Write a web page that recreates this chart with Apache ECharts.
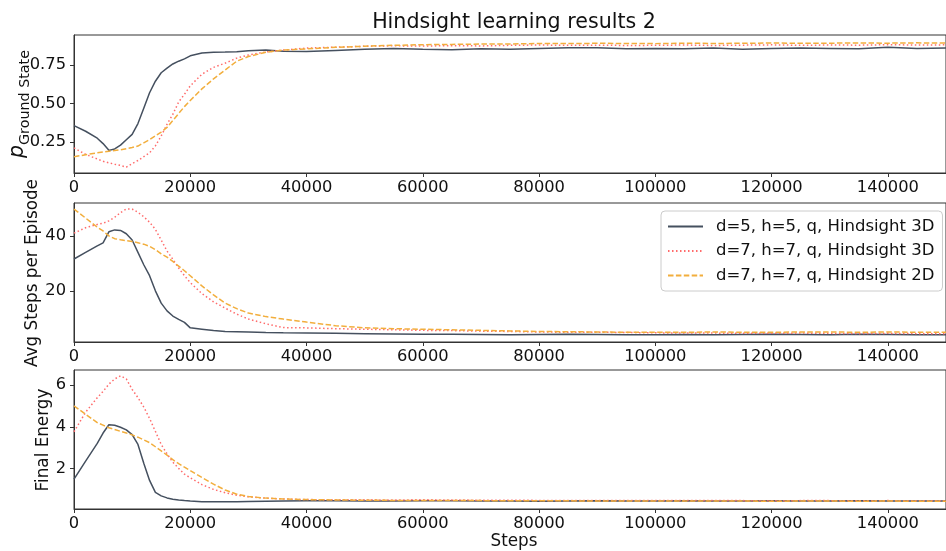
<!DOCTYPE html>
<html>
<head>
<meta charset="utf-8">
<script src="https://cdn.jsdelivr.net/npm/echarts@6/dist/echarts.min.js"></script>
<style>html,body{margin:0;padding:0;background:#fff}#c{width:946px;height:551px}</style>
</head>
<body>
<div id="c"></div>
<script>
const titleText = 'Hindsight learning results 2';
const seriesNames = ['d=5, h=5, q, Hindsight 3D', 'd=7, h=7, q, Hindsight 3D', 'd=7, h=7, q, Hindsight 2D'];
const xTicks = [0, 20000, 40000, 60000, 80000, 100000, 120000, 140000];
const pTicks = [0.25, 0.5, 0.75];
const stepsTicks = [20, 40];
const energyTicks = [2, 4, 6];

const steps = [0,2000,4000,5000,6000,7000,8000,9000,10000,11000,12000,13000,14000,15000,16000,17000,18000,19000,20000,22000,24000,26000,28000,30000,33000,36000,
  40000,45000,50000,55000,60000,65000,70000,75000,80000,85000,90000,95000,100000,105000,110000,115000,120000,125000,130000,135000,140000,145000,150000];

// Panel 1: p_Ground State
const pDark = [0.357,0.32,0.275,0.24,0.196,0.205,0.23,0.265,0.30,0.37,0.47,0.57,0.645,0.70,0.73,0.757,0.775,0.79,0.81,0.828,0.833,0.834,0.836,0.843,0.847,0.84,
  0.838,0.845,0.852,0.858,0.853,0.850,0.856,0.853,0.858,0.862,0.862,0.855,0.858,0.855,0.860,0.853,0.857,0.860,0.858,0.855,0.865,0.858,0.860];
const pRed = [0.212,0.17,0.14,0.125,0.115,0.106,0.098,0.087,0.11,0.13,0.155,0.18,0.225,0.29,0.365,0.43,0.51,0.56,0.615,0.69,0.735,0.762,0.795,0.815,0.835,0.847,
  0.860,0.866,0.872,0.875,0.873,0.876,0.874,0.878,0.880,0.878,0.879,0.877,0.878,0.880,0.877,0.879,0.881,0.878,0.880,0.879,0.882,0.880,0.881];
const pOrange = [0.154,0.168,0.18,0.185,0.19,0.195,0.2,0.207,0.215,0.224,0.245,0.265,0.29,0.315,0.345,0.39,0.435,0.48,0.52,0.595,0.66,0.718,0.775,0.805,0.833,0.847,
  0.855,0.865,0.872,0.878,0.882,0.884,0.886,0.887,0.890,0.889,0.891,0.890,0.889,0.892,0.890,0.891,0.893,0.891,0.892,0.893,0.892,0.894,0.893];

// Panel 2: Avg Steps per Episode
const sDark = [31.6,34,36.4,37.5,41.5,42.2,42,40.8,38.5,34,29.5,25.5,20,15.5,12.7,10.8,9.6,8.5,6.5,6,5.5,5.2,5.1,5,4.8,4.7,
  4.6,4.5,4.4,4.3,4.2,4.2,4.1,4.0,4.1,4.2,4.1,4.0,4.0,4.1,4.0,4.1,4.2,4.1,4.0,4.2,4.1,4.0,4.0];
const sRed = [41,43,44.2,44.6,45.5,46.8,48.5,49.8,49.8,48.6,47,45,42.4,38.5,34.5,31.5,28.3,25.5,23,19,16,13.7,11.5,9.7,8,6.6,
  6.5,6.2,6.0,5.8,5.6,5.5,5.3,5.2,5.0,4.9,4.9,4.8,4.7,4.6,4.6,4.5,4.5,4.6,4.5,4.4,4.5,4.4,4.4];
const sOrange = [49.8,46.5,43.2,41.8,40,39,38.6,38.3,38,37.5,37,36.2,35,33.5,32.3,30.7,29,27.3,25.5,21.8,18.5,15.5,13.5,11.9,10.6,9.7,
  8.6,7.3,6.5,6.2,6.0,5.8,5.6,5.4,5.2,5.1,5.0,4.9,4.9,4.9,5.0,4.9,4.9,5.0,5.0,4.9,5.0,4.9,4.9];

// Panel 3: Final Energy
const eDark = [1.48,2.35,3.2,3.7,4.1,4.07,3.98,3.85,3.62,3.15,2.25,1.42,0.85,0.68,0.58,0.52,0.48,0.45,0.43,0.40,0.40,0.40,0.40,0.41,0.42,0.43,
  0.44,0.44,0.43,0.43,0.44,0.44,0.43,0.43,0.42,0.43,0.44,0.43,0.43,0.44,0.43,0.43,0.44,0.43,0.43,0.44,0.43,0.43,0.43];
const eRed = [3.76,4.7,5.4,5.7,6.05,6.3,6.45,6.3,5.8,5.4,4.95,4.4,3.78,3.15,2.7,2.3,2.0,1.72,1.55,1.22,0.99,0.83,0.71,0.63,0.57,0.53,
  0.50,0.49,0.49,0.48,0.49,0.48,0.47,0.47,0.46,0.46,0.46,0.45,0.45,0.45,0.45,0.45,0.44,0.45,0.45,0.44,0.45,0.44,0.44];
const eOrange = [5.01,4.6,4.2,4.08,3.95,3.87,3.78,3.7,3.61,3.5,3.37,3.24,3.04,2.84,2.64,2.42,2.23,2.06,1.89,1.56,1.24,0.96,0.76,0.65,0.57,0.53,
  0.50,0.48,0.47,0.46,0.46,0.45,0.45,0.44,0.44,0.44,0.43,0.43,0.43,0.43,0.43,0.43,0.42,0.43,0.43,0.42,0.43,0.42,0.42];

const FONT = 'DejaVu Sans';
const colors = ['#45505f', '#ff6b6b', '#f2ae3d'];
const lineTypes = ['solid', [1.5, 2.5], [5.5, 2.4]];

const grids = [
  {left: 74, top: 35, width: 881, height: 138},
  {left: 74, top: 203, width: 881, height: 139},
  {left: 74, top: 370, width: 881, height: 139}
].map(g => Object.assign({show: true, borderColor: '#333', borderWidth: 1, backgroundColor: 'transparent'}, g));

const xAxes = [0,1,2].map(i => ({
  type: 'value', gridIndex: i, min: 0, max: 150000, interval: 20000,
  axisLine: {show: true, lineStyle: {color: '#333'}},
  axisTick: {show: true, length: 4, lineStyle: {color: '#333'}, customValues: xTicks},
  axisLabel: {show: true, color: '#111', fontFamily: FONT, fontSize: 16.3, margin: 7, customValues: xTicks, formatter: v => String(v)},
  splitLine: {show: false}
}));

function yAx(i, min, max, ticks, fmt) {
  return {
    type: 'value', gridIndex: i, min: min, max: max,
    axisLine: {show: true, lineStyle: {color: '#333'}},
    axisTick: {show: true, length: 4, lineStyle: {color: '#333'}, customValues: ticks},
    axisLabel: {show: true, color: '#111', fontFamily: FONT, fontSize: 16.3, margin: 8, customValues: ticks, formatter: fmt},
    splitLine: {show: false}
  };
}
const yAxes = [
  yAx(0, 0.049, 0.945, pTicks, v => v.toFixed(2)),
  yAx(1, 1.35, 52, stepsTicks, v => String(Math.round(v))),
  yAx(2, 0.047, 6.73, energyTicks, v => String(Math.round(v)))
];

const panels = [[pDark, pRed, pOrange], [sDark, sRed, sOrange], [eDark, eRed, eOrange]];
const series = [];
panels.forEach((arrs, gi) => {
  arrs.forEach((arr, si) => {
    series.push({
      name: seriesNames[si], type: 'line', xAxisIndex: gi, yAxisIndex: gi,
      data: steps.map((s, k) => [s, arr[k]]),
      symbol: 'none', smooth: false, silent: true,
      lineStyle: {color: colors[si], width: 1.5, type: lineTypes[si]},
      itemStyle: {color: colors[si]},
      z: 2 + si
    });
  });
});

const chart = echarts.init(document.getElementById('c'), null, {renderer: 'canvas'});
chart.setOption({
  animation: false,
  backgroundColor: '#fff',
  title: {text: titleText, left: 514, textAlign: 'center', top: 12, padding: 0,
    textStyle: {fontFamily: FONT, fontSize: 20.6, fontWeight: 'normal', color: '#111'}},
  legend: {
    data: seriesNames, orient: 'vertical', left: 661, top: 211,
    backgroundColor: 'rgba(255,255,255,0.85)', borderColor: '#ccc', borderWidth: 1, borderRadius: 4,
    padding: [7, 8, 7, 6], itemGap: 7.5, itemWidth: 35, itemHeight: 16,
    itemStyle: {opacity: 0},
    formatter: n => '{t|' + n + '}',
    textStyle: {fontFamily: FONT, fontSize: 16.5, color: '#111',
      rich: {t: {fontFamily: FONT, fontSize: 16.5, color: '#111', padding: [0, 0, 0, 8]}}}
  },
  grid: grids, xAxis: xAxes, yAxis: yAxes, series: series,
  graphic: [
    {type: 'text', x: 514, y: 542, style: {text: 'Steps', font: '16.8px "DejaVu Sans"', fill: '#111', align: 'center', verticalAlign: 'middle', textAlign: 'center', textVerticalAlign: 'middle'}},
    {type: 'text', x: 33, y: 273, rotation: Math.PI / 2, style: {text: 'Avg Steps per Episode', font: '16.8px "DejaVu Sans"', fill: '#111', align: 'center', verticalAlign: 'middle', textAlign: 'center', textVerticalAlign: 'middle'}},
    {type: 'text', x: 44, y: 440, rotation: Math.PI / 2, style: {text: 'Final Energy', font: '16.8px "DejaVu Sans"', fill: '#111', align: 'center', verticalAlign: 'middle', textAlign: 'center', textVerticalAlign: 'middle'}},
    {type: 'text', x: 20, y: 104, rotation: Math.PI / 2, style: {
      text: '{p|p}{s|Ground State}', align: 'center', verticalAlign: 'middle', textAlign: 'center', textVerticalAlign: 'middle', fill: '#111',
      rich: {
        p: {fontFamily: FONT, fontSize: 20.5, fontStyle: 'italic', fill: '#111', verticalAlign: 'top', lineHeight: 24},
        s: {fontFamily: FONT, fontSize: 14.3, fill: '#111', verticalAlign: 'bottom', lineHeight: 24, padding: [6, 0, 0, 0]}
      }
    }}
  ]
});
</script>
</body>
</html>
